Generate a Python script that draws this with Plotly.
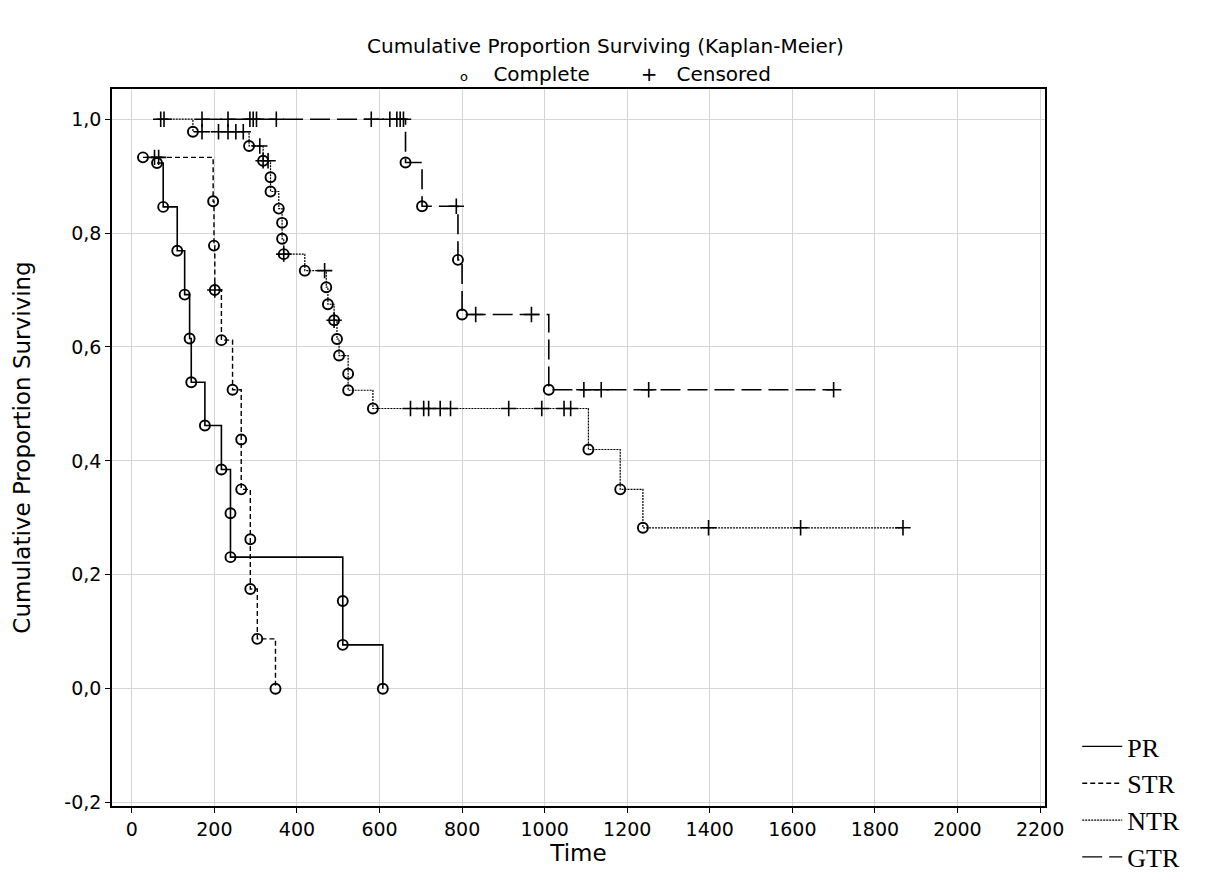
import plotly.graph_objects as go

# ---------------- data ----------------
# status: 1 = complete (circle), 0 = censored (+)
pr_time = [61, 76, 110, 128, 140, 144, 177, 217, 239, 239, 511, 511, 608]
pr_surv = [0.923, 0.846, 0.769, 0.692, 0.615, 0.538, 0.462, 0.385, 0.308, 0.231, 0.154, 0.077, 0.0]
pr_stat = [1, 1, 1, 1, 1, 1, 1, 1, 1, 1, 1, 1, 1]

str_time = [27, 55, 65, 197, 199, 201, 201, 217, 244, 265, 265, 287, 287, 304, 348]
str_surv = [0.933, 0.933, 0.933, 0.856, 0.778, 0.700, 0.700, 0.612, 0.525, 0.4375, 0.350, 0.2625, 0.175, 0.0875, 0.0]
str_stat = [1, 0, 0, 1, 1, 1, 0, 1, 1, 1, 1, 1, 1, 1, 1]

ntr_time = [70, 78, 148, 170, 210, 233, 252, 270, 284, 310, 318, 318, 330, 336, 336, 356, 364, 364, 368, 368,
            419, 467, 471, 475, 490, 490, 497, 502, 524, 524, 584, 675, 707, 719, 747, 772, 913, 993, 1047, 1063,
            1106, 1183, 1238, 1397, 1620, 1868]
ntr_surv = [1.0, 1.0, 0.978, 0.978, 0.978, 0.978, 0.978, 0.978, 0.953, 0.953, 0.927, 0.927, 0.927, 0.898, 0.873,
            0.843, 0.818, 0.790, 0.763, 0.763, 0.734, 0.734, 0.705, 0.675, 0.647, 0.647, 0.614, 0.585, 0.553, 0.524,
            0.492, 0.492, 0.492, 0.492, 0.492, 0.492, 0.492, 0.492, 0.492, 0.492, 0.420, 0.350, 0.2825, 0.2825,
            0.2825, 0.2825]
ntr_stat = [0, 0, 1, 0, 0, 0, 0, 0, 1, 0, 1, 0, 0, 1, 1, 1, 1, 1, 1, 0,
            1, 0, 1, 1, 1, 0, 1, 1, 1, 1, 1, 0, 0, 0, 0, 0, 0, 0, 0, 0,
            1, 1, 1, 0, 0, 0]

gtr_time = [170, 233, 286, 294, 302, 350, 580, 625, 642, 650, 658, 663, 703, 786, 790, 800, 833, 968, 1010,
            1095, 1137, 1252, 1700]
gtr_surv = [1.0, 1.0, 1.0, 1.0, 1.0, 1.0, 1.0, 1.0, 1.0, 1.0, 1.0, 0.924, 0.847, 0.847, 0.753, 0.657, 0.657,
            0.657, 0.525, 0.525, 0.525, 0.525, 0.525]
gtr_stat = [0, 0, 0, 0, 0, 0, 0, 0, 0, 0, 0, 1, 1, 0, 1, 1, 0, 0, 1, 0, 0, 0, 0]

group_names = ["PR", "STR", "NTR", "GTR"]
x_ticks = [0, 200, 400, 600, 800, 1000, 1200, 1400, 1600, 1800, 2000, 2200]
y_ticks = [-0.2, 0.0, 0.2, 0.4, 0.6, 0.8, 1.0]
y_tick_labels = ["-0,2", "0,0", "0,2", "0,4", "0,6", "0,8", "1,0"]

# ---------------- styles ----------------
groups = [
    (pr_time, pr_surv, pr_stat, "solid", 1.6),
    (str_time, str_surv, str_stat, "5px,3px", 1.4),
    (ntr_time, ntr_surv, ntr_stat, "2px,1px", 1.2),
    (gtr_time, gtr_surv, gtr_stat, "20px,7px", 1.6),
]

fig = go.Figure()
for name, (t, s, st, dash, w) in zip(group_names, groups):
    fig.add_trace(go.Scatter(x=t, y=s, mode="lines", line=dict(color="black", width=w, dash=dash, shape="hv"),
                             showlegend=False, hoverinfo="skip"))
    ct = [a for a, k in zip(t, st) if k == 1]
    cs = [b for b, k in zip(s, st) if k == 1]
    xt = [a for a, k in zip(t, st) if k == 0]
    xs = [b for b, k in zip(s, st) if k == 0]
    fig.add_trace(go.Scatter(x=ct, y=cs, mode="markers",
                             marker=dict(symbol="circle-open", size=10, color="black", line=dict(width=1.9)),
                             showlegend=False))
    fig.add_trace(go.Scatter(x=xt, y=xs, mode="markers",
                             marker=dict(symbol="cross-thin-open", size=11, color="black", line=dict(width=1.6)),
                             showlegend=False))

for i, (name, (t, s, st, dash, w)) in enumerate(zip(group_names, groups)):
    fig.add_trace(go.Scatter(x=[None], y=[None], mode="lines", name=name, legendgroup=name,
                             line=dict(color="black", width=1.3, dash=dash)))

FONT = "DejaVu Sans, Liberation Sans, Arial, sans-serif"
fig.update_layout(
    width=1209, height=885,
    margin=dict(l=112, r=164, t=89, b=79),
    paper_bgcolor="white", plot_bgcolor="white",
    font=dict(family=FONT, size=19, color="black"),
    legend=dict(xref="container", yref="container", x=0.891, y=0.183, xanchor="left", yanchor="top",
                font=dict(family="Liberation Serif, Times New Roman, serif", size=26, color="black"),
                bgcolor="rgba(0,0,0,0)", traceorder="grouped", tracegroupgap=0, itemwidth=40),
    showlegend=True,
    annotations=[
        dict(text="Cumulative Proportion Surviving (Kaplan-Meier)", xref="paper", yref="paper",
             x=0.529, y=1.0795, showarrow=False, font=dict(size=20)),
        dict(text="<span style='font-size:13px'>o</span>&nbsp;&nbsp;&nbsp;&nbsp;Complete"
                  "&nbsp;&nbsp;&nbsp;&nbsp;&nbsp;&nbsp;&nbsp;&nbsp;+&nbsp;&nbsp;&nbsp;Censored",
             xref="paper", yref="paper", x=0.540, y=1.0404, showarrow=False, font=dict(size=20)),
    ],
)
fig.update_xaxes(range=[-48, 2212], tickvals=x_ticks, ticktext=[str(v) for v in x_ticks],
                 showgrid=True, gridcolor="#d4d4d4", gridwidth=1.2, zeroline=False,
                 showline=True, linecolor="black", linewidth=1.5, mirror=True,
                 ticks="outside", ticklen=5, tickcolor="black",
                 title=dict(text="Time", standoff=5), tickfont=dict(size=19))
fig.update_yaxes(range=[-0.206, 1.053], tickvals=y_ticks, ticktext=y_tick_labels,
                 showgrid=True, gridcolor="#d4d4d4", gridwidth=1.2, zeroline=False,
                 showline=True, linecolor="black", linewidth=1.5, mirror=True,
                 ticks="outside", ticklen=5, tickcolor="black",
                 title=dict(text="Cumulative Proportion Surviving", standoff=27), tickfont=dict(size=19))

fig.write_html("out.html")
